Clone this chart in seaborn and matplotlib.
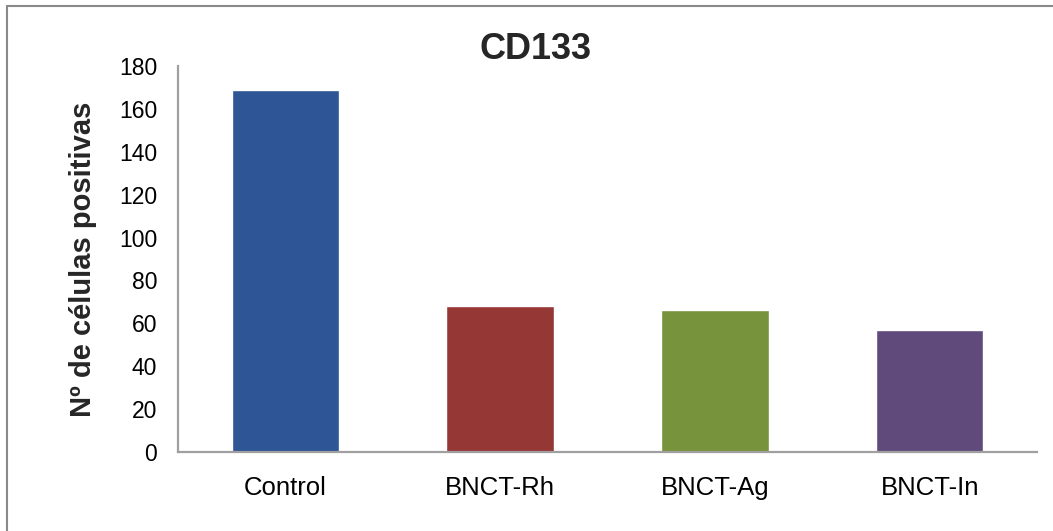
import matplotlib
matplotlib.use("Agg")
import matplotlib.pyplot as plt
from matplotlib.lines import Line2D
import pandas as pd
import seaborn as sns

# Data
groups = ["Control", "BNCT-Rh", "BNCT-Ag", "BNCT-In"]
positive_cells = [169, 68, 66, 57]
bar_colors = ["#2E5596", "#953735", "#77933C", "#604A7B"]
y_ticks = [0, 20, 40, 60, 80, 100, 120, 140, 160, 180]

title_text = "CD133"
y_label = "Nº de células positivas"

sns.set_style("white")
plt.rcParams["font.family"] = ["Liberation Sans", "DejaVu Sans"]

df = pd.DataFrame({"grupo": groups, "celulas": positive_cells})

fig = plt.figure(figsize=(10.53, 5.31), dpi=100)
ax = fig.add_axes([0.169, 0.1488, 0.8159, 0.7269])

sns.barplot(data=df, x="grupo", y="celulas", hue="grupo",
            palette=bar_colors, width=0.5, saturation=1,
            legend=False, ax=ax)

ax.set_ylim(0, 180)
ax.set_yticks(y_ticks)
ax.set_xlim(-0.5, len(groups) - 0.5)
ax.set_xlabel("")
ax.set_ylabel(y_label, fontsize=21, fontweight="bold", labelpad=16)

ax.tick_params(axis="y", length=0, pad=15, labelsize=16.5, colors="#000000")
ax.tick_params(axis="x", length=0, pad=17, labelsize=18.5, colors="#000000")

for side in ("top", "right"):
    ax.spines[side].set_visible(False)
for side in ("left", "bottom"):
    ax.spines[side].set_color("#A0A0A0")
    ax.spines[side].set_linewidth(1.6)

fig.text(0.509, 0.907, title_text, fontsize=26, fontweight="bold",
         ha="center", va="center")

# Outer chart frame (left and top edges)
frame_color = "#898989"
fig.add_artist(Line2D([0.0066, 0.0066], [0, 0.9887], transform=fig.transFigure,
                      color=frame_color, linewidth=1.5))
fig.add_artist(Line2D([0.0066, 1.0], [0.9887, 0.9887], transform=fig.transFigure,
                      color=frame_color, linewidth=1.5))

fig.savefig("out.png", dpi=100)
